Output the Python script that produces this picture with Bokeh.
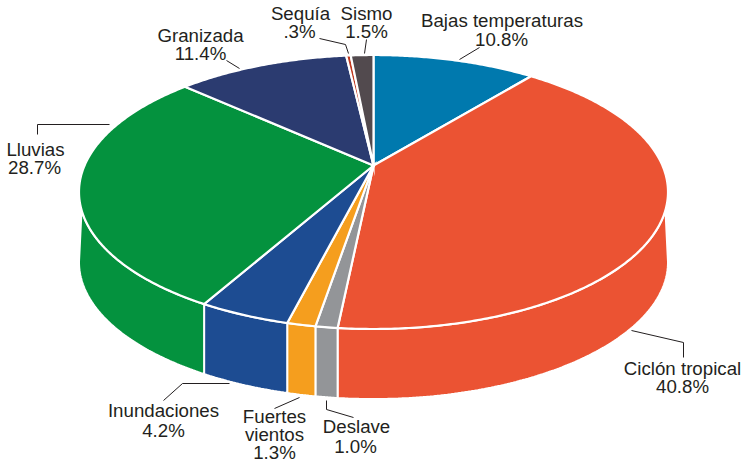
import numpy as np
from bokeh.plotting import figure
from bokeh.embed import file_html
from bokeh.resources import INLINE
from bokeh.core.properties import value

# Data, clockwise from 12 o'clock
categories = ["Bajas temperaturas", "Ciclón tropical", "Deslave", "Fuertes vientos",
              "Inundaciones", "Lluvias", "Granizada", "Sequía", "Sismo"]
shares = [10.8, 40.8, 1.0, 1.3, 4.2, 28.7, 11.4, 0.3, 1.5]
colors = ["#0079AE", "#EB5333", "#939598", "#F59E1E", "#1D4C92",
          "#04923E", "#2B3B70", "#C1391F", "#524A4E"]

# Perspective pie geometry (page pixels)
CX, CY = 373.0, 165.0
BACK, FRONT, HALF_W, DEPTH = 110.5, 163.5, 294.5, 70.0
PERSP = -(FRONT - BACK) / (FRONT + BACK)
A = BACK * (1 - PERSP)
ELL_CY = CY + (FRONT - BACK) / 2
_v = 0.198
K = HALF_W * (1 + PERSP * _v) / np.sqrt(1 - _v ** 2)


def project(theta):
    u, v = np.sin(theta), -np.cos(theta)
    d = 1 + PERSP * v
    return CX + K * u / d, CY + A * v / d


def arc(a0, a1):
    n = max(2, int(abs(a1 - a0) / 0.01) + 2)
    return project(np.linspace(a0, a1, n))


def angle_at_y(y_target, lo, hi):
    grid = np.linspace(lo, hi, 4000)
    return grid[np.argmin(np.abs(project(grid)[1] - y_target))]


p = figure(width=744, height=464, x_range=(0, 744), y_range=(464, 0),
           toolbar_location=None, output_backend="svg", min_border=0)
p.axis.visible = False
p.grid.visible = False
p.outline_line_color = None
p.background_fill_color = None
p.border_fill_color = None

edges = np.deg2rad(np.concatenate([[0], np.cumsum(shares)]) * 3.6)

# Visible wall: widest points for the lower rim, slightly lower for the upper rim
wide_r = angle_at_y(ELL_CY, np.pi * 0.3, np.pi)
wide_l = angle_at_y(ELL_CY, np.pi, np.pi * 1.7)
rim_r = angle_at_y(ELL_CY + 18, np.pi * 0.3, np.pi)
rim_l = angle_at_y(ELL_CY + 18, np.pi, np.pi * 1.7)

for a0, a1, c in zip(edges[:-1], edges[1:], colors):
    lo, hi = max(a0, wide_r), min(a1, wide_l)
    if lo >= hi:
        continue
    tx, ty = arc(max(a0, rim_r), min(a1, rim_l))
    bx, by = arc(lo, hi)
    xs = np.concatenate([tx, bx[::-1]])
    ys = np.concatenate([ty, by[::-1] + DEPTH])
    p.patch(xs, ys, fill_color=c, line_color="white", line_width=2)

# Top face
for a0, a1, c in zip(edges[:-1], edges[1:], colors):
    ax, ay = arc(a0, a1)
    p.patch(np.concatenate([[CX], ax]), np.concatenate([[CY], ay]),
            fill_color=c, line_color="white", line_width=2.2, line_join="miter")

# Leader lines (annotation layout, page pixels)
leaders = [
    [(459, 59), (479, 47)],
    [(364, 53), (366, 39)],
    [(348, 53), (345, 44), (319, 38)],
    [(239, 68), (226, 60)],
    [(109, 124), (37, 124), (37, 134)],
    [(229, 383), (182, 383), (163, 400)],
    [(299, 397), (274, 408)],
    [(326, 400), (326, 409), (353, 417)],
    [(631, 330), (683, 342), (683, 357)],
]
p.multi_line([[q[0] for q in l] for l in leaders], [[q[1] for q in l] for l in leaders],
             line_color="#231F20", line_width=1)

# Labels: text, centre x, baseline y
labels = [
    ("Bajas temperaturas", 501.5, 27), ("10.8%", 501, 46),
    ("Sequía", 300, 20), (".3%", 299, 38),
    ("Sismo", 366, 20), ("1.5%", 366, 38),
    ("Granizada", 200, 42), ("11.4%", 200, 60),
    ("Lluvias", 35, 156), ("28.7%", 34, 174),
    ("Inundaciones", 163, 417), ("4.2%", 163, 437),
    ("Fuertes", 274, 423), ("vientos", 274, 441), ("1.3%", 274, 459),
    ("Deslave", 356, 433), ("1.0%", 355, 453),
    ("Ciclón tropical", 682, 375), ("40.8%", 682, 393),
]
p.text([l[1] for l in labels], [l[2] for l in labels], text=[l[0] for l in labels],
       text_font=value("Liberation Sans"), text_font_size="18.7px", text_color="#231F20",
       text_align="center", text_baseline="alphabetic", y_offset=-7)

open("out.html", "w").write(file_html(p, INLINE))
